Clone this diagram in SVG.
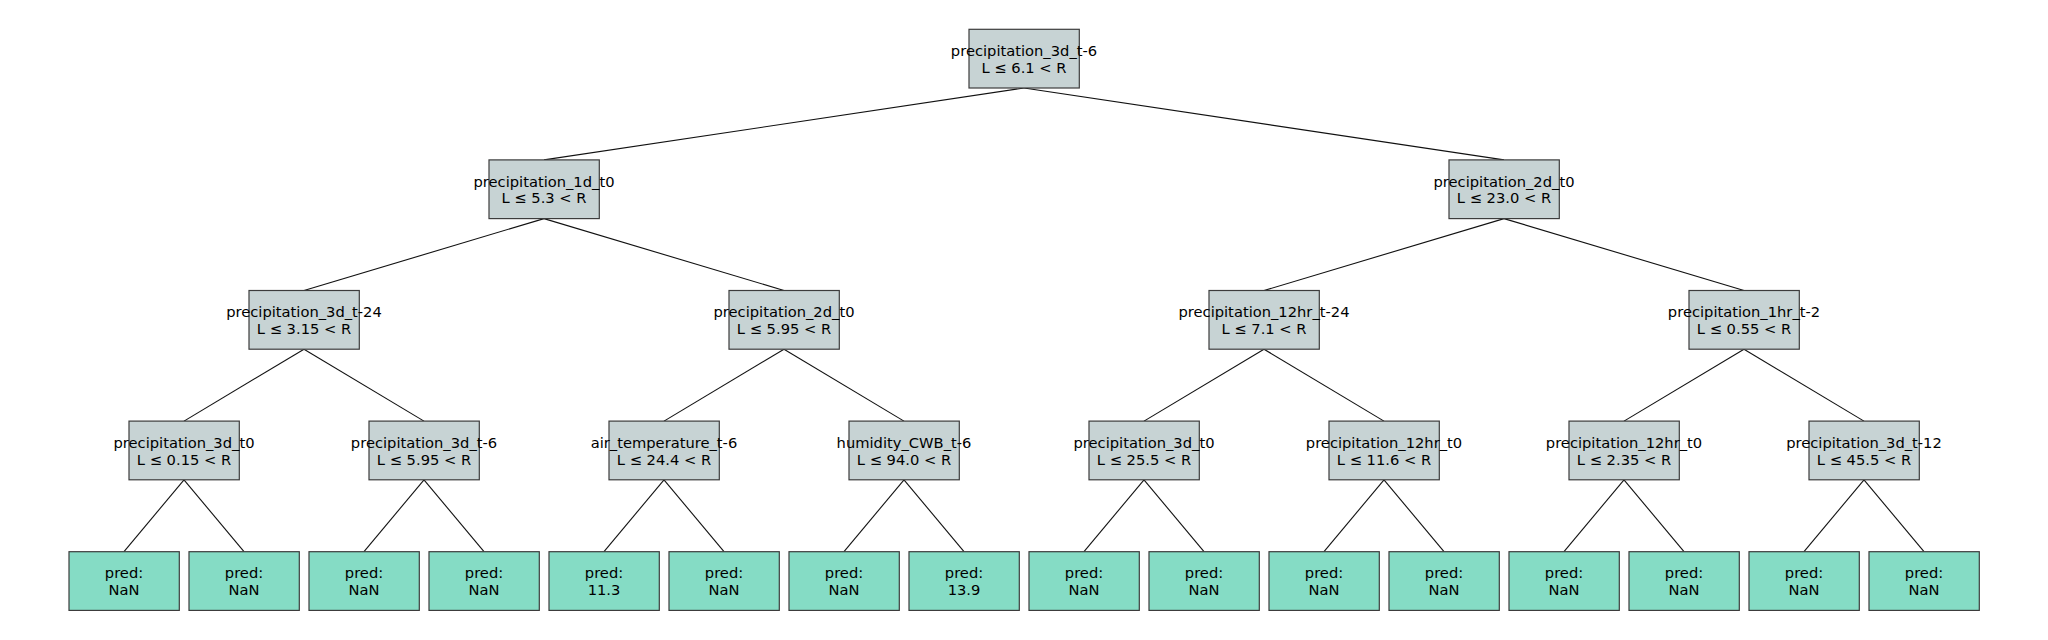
<svg xmlns="http://www.w3.org/2000/svg" width="2048" height="640" viewBox="0 0 2048 640">
<style>
.n rect{fill:#c7d3d4;stroke:#3c3c3c;stroke-width:1.2}
.l rect{fill:#85dcc5;stroke:#3c3c3c;stroke-width:1.2}
text{font-family:"DejaVu Sans",sans-serif;font-size:14.7px;fill:#000;text-anchor:middle}
#edges line{stroke:#111;stroke-width:1.1}
</style>
<rect width="2048" height="640" fill="#fff"/>
<g id="edges">
<line x1="1024" y1="88" x2="544" y2="159.9"/>
<line x1="1024" y1="88" x2="1504" y2="159.9"/>
<line x1="544" y1="218.6" x2="304" y2="290.5"/>
<line x1="544" y1="218.6" x2="784" y2="290.5"/>
<line x1="1504" y1="218.6" x2="1264" y2="290.5"/>
<line x1="1504" y1="218.6" x2="1744" y2="290.5"/>
<line x1="304" y1="349.2" x2="184" y2="421.1"/>
<line x1="304" y1="349.2" x2="424" y2="421.1"/>
<line x1="784" y1="349.2" x2="664" y2="421.1"/>
<line x1="784" y1="349.2" x2="904" y2="421.1"/>
<line x1="1264" y1="349.2" x2="1144" y2="421.1"/>
<line x1="1264" y1="349.2" x2="1384" y2="421.1"/>
<line x1="1744" y1="349.2" x2="1624" y2="421.1"/>
<line x1="1744" y1="349.2" x2="1864" y2="421.1"/>
<line x1="184" y1="479.8" x2="124" y2="551.7"/>
<line x1="184" y1="479.8" x2="244" y2="551.7"/>
<line x1="424" y1="479.8" x2="364" y2="551.7"/>
<line x1="424" y1="479.8" x2="484" y2="551.7"/>
<line x1="664" y1="479.8" x2="604" y2="551.7"/>
<line x1="664" y1="479.8" x2="724" y2="551.7"/>
<line x1="904" y1="479.8" x2="844" y2="551.7"/>
<line x1="904" y1="479.8" x2="964" y2="551.7"/>
<line x1="1144" y1="479.8" x2="1084" y2="551.7"/>
<line x1="1144" y1="479.8" x2="1204" y2="551.7"/>
<line x1="1384" y1="479.8" x2="1324" y2="551.7"/>
<line x1="1384" y1="479.8" x2="1444" y2="551.7"/>
<line x1="1624" y1="479.8" x2="1564" y2="551.7"/>
<line x1="1624" y1="479.8" x2="1684" y2="551.7"/>
<line x1="1864" y1="479.8" x2="1804" y2="551.7"/>
<line x1="1864" y1="479.8" x2="1924" y2="551.7"/>
</g>
<g id="n0" class="n"><rect x="969" y="29.3" width="110.3" height="58.7"/><text x="1024" y="55.9">precipitation_3d_t-6</text><text x="1024" y="72.8">L ≤ 6.1 &lt; R</text></g>
<g id="n1" class="n"><rect x="489" y="159.9" width="110.3" height="58.7"/><text x="544" y="186.5">precipitation_1d_t0</text><text x="544" y="203.4">L ≤ 5.3 &lt; R</text></g>
<g id="n2" class="n"><rect x="1449" y="159.9" width="110.3" height="58.7"/><text x="1504" y="186.5">precipitation_2d_t0</text><text x="1504" y="203.4">L ≤ 23.0 &lt; R</text></g>
<g id="n3" class="n"><rect x="249" y="290.5" width="110.3" height="58.7"/><text x="304" y="317.1">precipitation_3d_t-24</text><text x="304" y="334">L ≤ 3.15 &lt; R</text></g>
<g id="n4" class="n"><rect x="729" y="290.5" width="110.3" height="58.7"/><text x="784" y="317.1">precipitation_2d_t0</text><text x="784" y="334">L ≤ 5.95 &lt; R</text></g>
<g id="n5" class="n"><rect x="1209" y="290.5" width="110.3" height="58.7"/><text x="1264" y="317.1">precipitation_12hr_t-24</text><text x="1264" y="334">L ≤ 7.1 &lt; R</text></g>
<g id="n6" class="n"><rect x="1689" y="290.5" width="110.3" height="58.7"/><text x="1744" y="317.1">precipitation_1hr_t-2</text><text x="1744" y="334">L ≤ 0.55 &lt; R</text></g>
<g id="n7" class="n"><rect x="129" y="421.1" width="110.3" height="58.7"/><text x="184" y="447.7">precipitation_3d_t0</text><text x="184" y="464.6">L ≤ 0.15 &lt; R</text></g>
<g id="n8" class="n"><rect x="369" y="421.1" width="110.3" height="58.7"/><text x="424" y="447.7">precipitation_3d_t-6</text><text x="424" y="464.6">L ≤ 5.95 &lt; R</text></g>
<g id="n9" class="n"><rect x="609" y="421.1" width="110.3" height="58.7"/><text x="664" y="447.7">air_temperature_t-6</text><text x="664" y="464.6">L ≤ 24.4 &lt; R</text></g>
<g id="n10" class="n"><rect x="849" y="421.1" width="110.3" height="58.7"/><text x="904" y="447.7">humidity_CWB_t-6</text><text x="904" y="464.6">L ≤ 94.0 &lt; R</text></g>
<g id="n11" class="n"><rect x="1089" y="421.1" width="110.3" height="58.7"/><text x="1144" y="447.7">precipitation_3d_t0</text><text x="1144" y="464.6">L ≤ 25.5 &lt; R</text></g>
<g id="n12" class="n"><rect x="1329" y="421.1" width="110.3" height="58.7"/><text x="1384" y="447.7">precipitation_12hr_t0</text><text x="1384" y="464.6">L ≤ 11.6 &lt; R</text></g>
<g id="n13" class="n"><rect x="1569" y="421.1" width="110.3" height="58.7"/><text x="1624" y="447.7">precipitation_12hr_t0</text><text x="1624" y="464.6">L ≤ 2.35 &lt; R</text></g>
<g id="n14" class="n"><rect x="1809" y="421.1" width="110.3" height="58.7"/><text x="1864" y="447.7">precipitation_3d_t-12</text><text x="1864" y="464.6">L ≤ 45.5 &lt; R</text></g>
<g id="leaf0" class="l"><rect x="69" y="551.7" width="110.3" height="58.7"/><text x="124" y="578.3">pred:</text><text x="124" y="595.2">NaN</text></g>
<g id="leaf1" class="l"><rect x="189" y="551.7" width="110.3" height="58.7"/><text x="244" y="578.3">pred:</text><text x="244" y="595.2">NaN</text></g>
<g id="leaf2" class="l"><rect x="309" y="551.7" width="110.3" height="58.7"/><text x="364" y="578.3">pred:</text><text x="364" y="595.2">NaN</text></g>
<g id="leaf3" class="l"><rect x="429" y="551.7" width="110.3" height="58.7"/><text x="484" y="578.3">pred:</text><text x="484" y="595.2">NaN</text></g>
<g id="leaf4" class="l"><rect x="549" y="551.7" width="110.3" height="58.7"/><text x="604" y="578.3">pred:</text><text x="604" y="595.2">11.3</text></g>
<g id="leaf5" class="l"><rect x="669" y="551.7" width="110.3" height="58.7"/><text x="724" y="578.3">pred:</text><text x="724" y="595.2">NaN</text></g>
<g id="leaf6" class="l"><rect x="789" y="551.7" width="110.3" height="58.7"/><text x="844" y="578.3">pred:</text><text x="844" y="595.2">NaN</text></g>
<g id="leaf7" class="l"><rect x="909" y="551.7" width="110.3" height="58.7"/><text x="964" y="578.3">pred:</text><text x="964" y="595.2">13.9</text></g>
<g id="leaf8" class="l"><rect x="1029" y="551.7" width="110.3" height="58.7"/><text x="1084" y="578.3">pred:</text><text x="1084" y="595.2">NaN</text></g>
<g id="leaf9" class="l"><rect x="1149" y="551.7" width="110.3" height="58.7"/><text x="1204" y="578.3">pred:</text><text x="1204" y="595.2">NaN</text></g>
<g id="leaf10" class="l"><rect x="1269" y="551.7" width="110.3" height="58.7"/><text x="1324" y="578.3">pred:</text><text x="1324" y="595.2">NaN</text></g>
<g id="leaf11" class="l"><rect x="1389" y="551.7" width="110.3" height="58.7"/><text x="1444" y="578.3">pred:</text><text x="1444" y="595.2">NaN</text></g>
<g id="leaf12" class="l"><rect x="1509" y="551.7" width="110.3" height="58.7"/><text x="1564" y="578.3">pred:</text><text x="1564" y="595.2">NaN</text></g>
<g id="leaf13" class="l"><rect x="1629" y="551.7" width="110.3" height="58.7"/><text x="1684" y="578.3">pred:</text><text x="1684" y="595.2">NaN</text></g>
<g id="leaf14" class="l"><rect x="1749" y="551.7" width="110.3" height="58.7"/><text x="1804" y="578.3">pred:</text><text x="1804" y="595.2">NaN</text></g>
<g id="leaf15" class="l"><rect x="1869" y="551.7" width="110.3" height="58.7"/><text x="1924" y="578.3">pred:</text><text x="1924" y="595.2">NaN</text></g>
</svg>
